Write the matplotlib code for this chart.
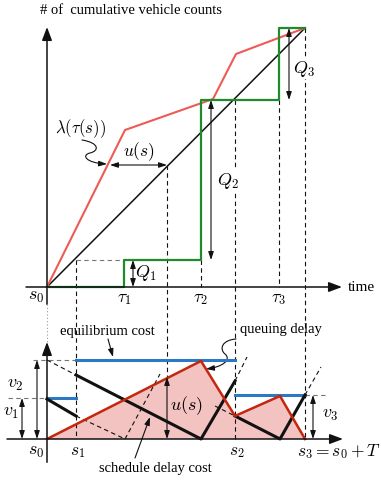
import numpy as np
import matplotlib
matplotlib.use('Agg')
import matplotlib.pyplot as plt
from matplotlib.path import Path
from matplotlib.patches import FancyArrowPatch

plt.rcParams['font.family'] = ['Liberation Serif', 'DejaVu Serif']
plt.rcParams['mathtext.fontset'] = 'cm'

# ---- top panel: cumulative vehicle counts (diagram coords, y grows downwards)
diag_x = [47, 305]
diag_y = [288, 29]
red_x = [47, 125, 213, 236, 305]
red_y = [288, 131, 100, 55, 29]
green_x = [47, 124, 124, 201, 201, 279, 279, 305]
green_y = [288, 288, 261, 261, 101, 101, 29, 29]

tau_x = [124, 201, 279]
tau_labels = [r'$\tau_1$', r'$\tau_2$', r'$\tau_3$']

# ---- bottom panel: costs
queue_x = [47, 201, 235, 280, 305]
queue_y = [440, 362, 417, 397, 440]
sched1_x = [47, 76]
sched1_y = [400, 417]
sched2_x = [76, 201, 235]
sched2_y = [376, 440, 382]
sched3_x = [235, 280, 305]
sched3_y = [417, 440, 396]
equil_x0 = [47, 76, 235]
equil_x1 = [76, 235, 305]
equil_y = [399, 361, 396]

s_x = [76, 235]
s_labels = [r'$s_1$', r'$s_2$']

dark = '#111111'
red_top = '#ee5a55'
green = '#1f8c2c'
blue = '#2b78c4'
red_low = '#c4260e'
pink = '#f2c3c1'

fig = plt.figure(figsize=(3.81, 4.81), dpi=100)
ax = fig.add_axes([0, 0, 1, 1])
ax.set_xlim(0, 381)
ax.set_ylim(481, 0)
ax.axis('off')

dash = dict(color=dark, lw=0.8, ls=(0, (4, 3)))
gdash = dict(color='#777777', lw=0.8, ls=(0, (4, 3)))
wbox = dict(facecolor='white', edgecolor='none', pad=1)

def axis_arrow(p0, p1):
    ax.annotate('', xy=p1, xytext=p0,
                arrowprops=dict(arrowstyle='-|>,head_length=0.8,head_width=0.3',
                                lw=1.1, color=dark, shrinkA=0, shrinkB=0,
                                mutation_scale=10))

def dbl(p0, p1, lw=0.8):
    ax.annotate('', xy=p1, xytext=p0,
                arrowprops=dict(arrowstyle='<|-|>,head_length=0.6,head_width=0.2',
                                lw=lw, color=dark, shrinkA=0, shrinkB=0,
                                mutation_scale=8))

def arrow(p0, p1):
    ax.annotate('', xy=p1, xytext=p0,
                arrowprops=dict(arrowstyle='-|>,head_length=0.6,head_width=0.2',
                                lw=0.8, color=dark, shrinkA=0, shrinkB=0,
                                mutation_scale=8))

# dashed guides, top panel
ax.plot([76, 124], [261, 261], **gdash)
ax.plot([76, 76], [261, 440], **dash)
ax.plot([167, 167], [166, 378], **dash)
ax.plot([201, 201], [261, 288], **dash)
ax.plot([235, 235], [101, 440], **dash)
ax.plot([279, 279], [101, 288], **dash)
ax.plot([305, 305], [29, 440], **dash)

# axes, top
axis_arrow((26, 288), (342, 288))
ax.plot([47, 47], [288, 305], color=dark, lw=1.1)
axis_arrow((47, 288), (47, 28))
ax.plot([47, 47], [305, 343], color='#999999', lw=0.8, ls=(0, (1, 2)))

ax.plot(diag_x, diag_y, color=dark, lw=1.1)
ax.plot(red_x, red_y, color=red_top, lw=1.5)
ax.plot(green_x, green_y, color=green, lw=1.6)

dbl((110, 166), (167, 166))
dbl((133, 288), (133, 261))
dbl((211, 101), (211, 261))
dbl((289, 29), (289, 101))

ax.text(40, 10, '# of  cumulative vehicle counts', fontsize=10.5, va='center')
ax.text(348, 288, 'time', fontsize=11, va='center')
ax.text(36, 297, r'$s_0$', fontsize=13, ha='center', va='center')
for x, lab in zip(tau_x, tau_labels):
    ax.text(x, 299, lab, fontsize=12.5, ha='center', va='center')
ax.text(139, 152, r'$u(s)$', fontsize=12.5, ha='center', va='center')
ax.text(81, 129, r'$\lambda(\tau(s))$', fontsize=12, ha='center', va='center')
ax.text(146, 273, r'$Q_1$', fontsize=13, ha='center', va='center')
ax.text(228, 181, r'$Q_2$', fontsize=13, ha='center', va='center', bbox=wbox)
ax.text(304, 69, r'$Q_3$', fontsize=13, ha='center', va='center', bbox=wbox)

sq1 = [(82, 141), (100, 144), (99, 152), (90, 154),
       (81, 156), (86, 164), (107, 165)]
codes = [Path.MOVETO] + [Path.CURVE4] * 6
ax.add_patch(FancyArrowPatch(path=Path(sq1, codes),
                             arrowstyle='-|>,head_length=0.6,head_width=0.2',
                             mutation_scale=8, lw=0.8, color=dark))

# ---- bottom panel
ax.fill(queue_x, queue_y, color=pink, lw=0)
ax.plot([8, 47], [399, 399], **gdash)
ax.plot([33, 76], [361, 361], **gdash)
ax.plot([305, 328], [396, 396], **gdash)
ax.plot([47, 76], [361, 376], **dash)
ax.plot([76, 125], [417, 440], **dash)
ax.plot([125, 160], [440, 375], **dash)
ax.plot([215, 235], [407, 417], **dash)
ax.plot([235, 247], [382, 358], **dash)
ax.plot([305, 321], [396, 368], **dash)

axis_arrow((7, 440), (343, 440))
ax.plot([47, 47], [440, 463], color=dark, lw=1.1)
axis_arrow((47, 440), (47, 343))

for x0, x1, y in zip(equil_x0, equil_x1, equil_y):
    ax.plot([x0, x1], [y, y], color=blue, lw=2.2)
ax.plot(sched1_x, sched1_y, color=dark, lw=2.2)
ax.plot(sched2_x, sched2_y, color=dark, lw=2.2)
ax.plot(sched3_x, sched3_y, color=dark, lw=2.2)
ax.plot(queue_x, queue_y, color=red_low, lw=1.8)

dbl((22, 399), (22, 440))
dbl((37, 361), (37, 440))
dbl((167, 378), (167, 440))
dbl((313, 396), (313, 440))

ax.text(11, 413, r'$v_1$', fontsize=13, ha='center', va='center')
ax.text(15, 385, r'$v_2$', fontsize=13, ha='center', va='center')
ax.text(187, 406, r'$u(s)$', fontsize=13, ha='center', va='center')
ax.text(330, 415, r'$v_3$', fontsize=13, ha='center', va='center')

ax.text(36, 452, r'$s_0$', fontsize=13, ha='center', va='center')
for x, lab in zip(s_x, s_labels):
    ax.text(x + 2, 452, lab, fontsize=12.5, ha='center', va='center')
ax.text(339, 452, r'$s_3 = s_0 + T$', fontsize=12.5, ha='center', va='center')

ax.text(107, 332, 'equilibrium cost', fontsize=10.5, ha='center', va='center')
ax.text(281, 330, 'queuing delay', fontsize=10.5, ha='center', va='center')
ax.text(155, 469, 'schedule delay cost', fontsize=10.5, ha='center', va='center')
arrow((108, 340), (113, 358))
arrow((135, 459), (150, 418))

sq2 = [(236, 340), (222, 341), (219, 350), (225, 355),
       (232, 361), (222, 368), (206, 370)]
ax.add_patch(FancyArrowPatch(path=Path(sq2, codes),
                             arrowstyle='-|>,head_length=0.6,head_width=0.2',
                             mutation_scale=8, lw=0.8, color=dark))

fig.savefig('out.png', dpi=100)
